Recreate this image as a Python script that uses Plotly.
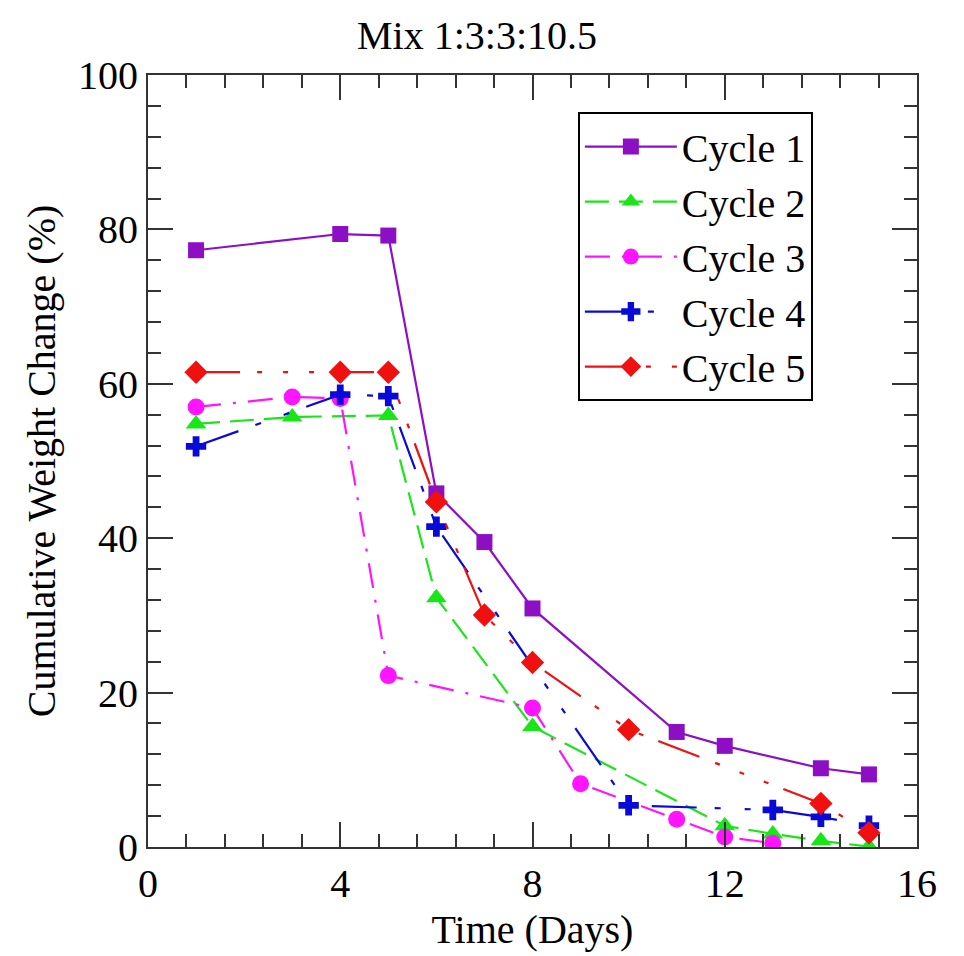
import plotly.graph_objects as go

# 데이터
c1_days = [1, 4, 5, 6, 7, 8, 11, 12, 14, 15]
c1_vals = [77.3, 79.4, 79.2, 45.8, 39.5, 30.9, 14.9, 13.1, 10.2, 9.4]

c2_days = [1, 3, 5, 6, 8, 12, 13, 14, 15]
c2_vals = [54.8, 55.7, 55.9, 32.3, 15.6, 2.75, 1.7, 0.8, 0.05]

c3_days = [1, 3, 4, 5, 8, 9, 11, 12, 13]
c3_vals = [57.0, 58.3, 58.1, 22.2, 18.0, 8.2, 3.6, 1.3, 0.5]

c4_days = [1, 4, 5, 6, 10, 13, 14, 15]
c4_vals = [51.9, 58.6, 58.4, 41.5, 5.4, 4.8, 3.9, 2.75]

c5_days = [1, 4, 5, 6, 7, 8, 10, 14, 15]
c5_vals = [61.5, 61.5, 61.5, 44.7, 30.05, 23.9, 15.2, 5.65, 1.85]

names = ["Cycle 1", "Cycle 2", "Cycle 3", "Cycle 4", "Cycle 5"]
FONT = "Liberation Serif"

fig = go.Figure()

series = [
    (c1_days, c1_vals, "#8C0FC4", "solid", "square", 16),
    (c2_days, c2_vals, "#19E619", "24px,10px", "triangle-up", 18),
    (c3_days, c3_vals, "#FF14FF", "25px,12px,3px,12px", "circle", 17),
    (c4_days, c4_vals, "#0A0AD8", "45px,18px,6px,24px,6px,18px", "cross", 17),
    (c5_days, c5_vals, "#F01010", "44px,17px,5px,21px,5px,21px,5px,16px", "diamond", 18),
]

for i, (xd, yd, col, dash, sym, sz) in enumerate(series):
    fig.add_trace(go.Scatter(
        x=xd, y=yd, name=names[i],
        mode="lines+markers",
        line=dict(color=col, width=2.2, dash=dash),
        marker=dict(symbol=sym, size=sz, color=col, line=dict(width=0)),
    ))

# 페이지 body 여백(8px)을 감안해서 크기/여백 조정
fig.update_layout(
    width=956, height=948,
    paper_bgcolor="white", plot_bgcolor="white",
    margin=dict(l=140, r=47, t=67, b=109),
    font=dict(family=FONT, size=40, color="black"),
    title=dict(text="Mix 1:3:3:10.5", x=0.4906, xanchor="center", y=0.972, yanchor="middle",
               font=dict(family=FONT, size=40)),
    legend=dict(x=0.559, y=0.952, xanchor="left", yanchor="top",
                bordercolor="black", borderwidth=2, bgcolor="white",
                font=dict(family=FONT, size=40),
                itemwidth=92),
    showlegend=True,
)

fig.update_xaxes(
    range=[0, 16], dtick=4, tick0=0, automargin=False,
    showline=True, linecolor="#333", linewidth=2, mirror="ticks",
    ticks="inside", ticklen=25, tickwidth=1.5, tickcolor="#333",
    minor=dict(dtick=0.8, ticks="inside", ticklen=13, tickwidth=1.5, tickcolor="#333"),
    showgrid=False, zeroline=False,
    title=dict(text="Time (Days)", font=dict(family=FONT, size=40), standoff=10),
    tickfont=dict(family=FONT, size=40),
)
fig.update_yaxes(
    range=[0, 100], dtick=20, tick0=0, automargin=False,
    showline=True, linecolor="#333", linewidth=2, mirror="ticks",
    ticks="inside", ticklen=25, tickwidth=1.5, tickcolor="#333",
    minor=dict(dtick=4, ticks="inside", ticklen=13, tickwidth=1.5, tickcolor="#333"),
    showgrid=False, zeroline=False,
    title=dict(text="Cumulative Weight Change (%)", font=dict(family=FONT, size=40), standoff=10),
    tickfont=dict(family=FONT, size=40),
)

fig.write_html("out.html")
